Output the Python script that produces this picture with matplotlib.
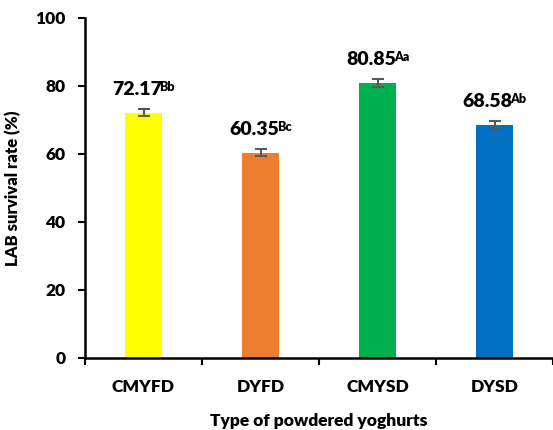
import matplotlib
matplotlib.use("Agg")
import matplotlib.pyplot as plt
from matplotlib.offsetbox import TextArea, HPacker, AnnotationBbox
import numpy as np

# dane
typy = ["CMYFD", "DYFD", "CMYSD", "DYSD"]
przezywalnosc = [72.17, 60.35, 80.85, 68.58]
bledy = [1.1, 1.0, 1.1, 1.0]
litery = ["Bb", "Bc", "Aa", "Ab"]
kolory = ["#FFFF00", "#ED7D31", "#00B050", "#0070C0"]

GRUBOSC = 800
plt.rcParams["font.family"] = "Lato"
plt.rcParams["font.weight"] = GRUBOSC

fig = plt.figure(figsize=(5.53, 4.30), dpi=100)
ax = fig.add_axes([85 / 553, 1 - 358 / 430, 1 - 85 / 553, 340 / 430])

x = np.arange(len(typy))
ax.bar(x, przezywalnosc, width=0.32, color=kolory, zorder=2)
ax.errorbar(x, przezywalnosc, yerr=bledy, fmt="none", ecolor="#595959",
            elinewidth=1.5, capsize=4.5, capthick=1.5, zorder=3)

# etykiety wartości z literami w indeksie górnym
for xi, v, e, lit in zip(x, przezywalnosc, bledy, litery):
    liczba = TextArea(f"{v:.2f}", textprops=dict(fontsize=14, fontweight=GRUBOSC))
    indeks = TextArea(lit, textprops=dict(fontsize=9, fontweight=GRUBOSC))
    pack = HPacker(children=[liczba, indeks], align="top", pad=0, sep=-1.5)
    ab = AnnotationBbox(pack, (xi, v + e), xybox=(0, 8), xycoords="data",
                        boxcoords="offset points", box_alignment=(0.5, 0),
                        frameon=False, pad=0)
    ax.add_artist(ab)

ax.set_ylim(0, 100)
ax.set_yticks(range(0, 101, 20))
ax.set_xlim(-0.5, 3.5)
ax.set_xticks(np.arange(-0.5, 4, 1))
ax.set_xticklabels([])
ax.set_xticks(x, minor=True)
ax.set_xticklabels(typy, minor=True, fontweight=GRUBOSC)

ax.tick_params(axis="y", length=5, width=1.5, pad=9, labelsize=12.5)
ax.tick_params(axis="x", which="major", length=5, width=1.5, direction="out")
ax.tick_params(axis="x", which="minor", length=0, pad=15, labelsize=12.5)
for t in ax.get_yticklabels():
    t.set_fontweight(GRUBOSC)

for s in ["top", "right"]:
    ax.spines[s].set_visible(False)
for s in ["left", "bottom"]:
    ax.spines[s].set_linewidth(1.8)
    ax.spines[s].set_zorder(4)

ax.set_ylabel("LAB survival rate (%)", fontsize=12, fontweight=GRUBOSC, labelpad=10)
ax.set_xlabel("Type of powdered yoghurts", fontsize=12.5, fontweight=GRUBOSC, labelpad=13)

fig.savefig("out.png", dpi=100)
